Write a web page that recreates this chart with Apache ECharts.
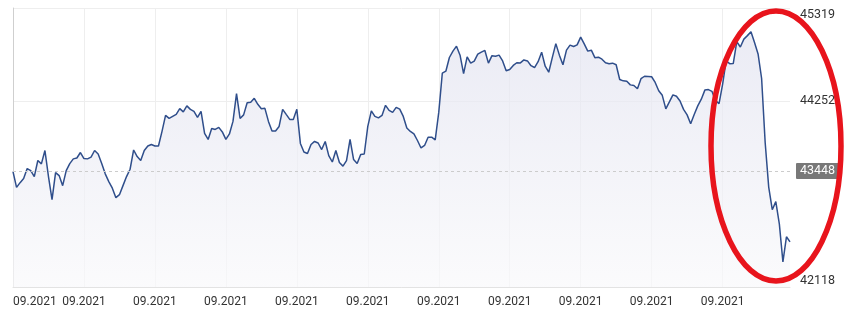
<!DOCTYPE html>
<html>
<head>
<meta charset="utf-8">
<script src="https://cdn.jsdelivr.net/npm/echarts@6/dist/echarts.min.js"></script>
<style>
html,body{margin:0;padding:0;background:#fff;}
#chart{width:848px;height:317px;}
</style>
</head>
<body>
<div id="chart"></div>
<script>
const values = [
43442,43261,43315,43362,43477,43454,43385,43569,43531,43684,
43385,43120,43431,43396,43281,43454,43534,43588,43598,43661,
43592,43588,43609,43684,43644,43534,43416,43327,43252,43143,
43177,43281,43385,43469,43690,43615,43569,43684,43736,43753,
43736,43736,43903,44087,44052,44075,44098,44164,44127,44196,
44156,44133,44064,44133,43880,43811,43937,43926,43949,43897,
43811,43874,44018,44337,44052,44093,44231,44237,44283,44214,
44164,44168,44018,43908,43908,43960,44156,44098,44041,44041,
44156,43765,43667,43649,43753,43788,43770,43695,43788,43626,
43552,43684,43546,43505,43569,43811,43580,43534,43638,43644,
43960,44139,44075,44058,44087,44202,44145,44121,44179,44159,
44075,43943,43903,43874,43799,43713,43742,43837,43837,43807,
44121,44571,44594,44751,44824,44881,44778,44567,44758,44686,
44709,44789,44812,44832,44686,44772,44766,44778,44712,44599,
44614,44660,44691,44689,44723,44712,44657,44636,44703,44812,
44651,44582,44749,44910,44778,44668,44835,44893,44877,44896,
44985,44907,44824,44835,44749,44755,44732,44691,44680,44686,
44668,44499,44483,44478,44437,44430,44392,44508,44536,44533,
44530,44465,44369,44317,44162,44241,44322,44306,44252,44156,
44093,43991,44098,44196,44273,44377,44383,44363,44256,44222,
44444,44712,44680,44682,44932,44872,44962,45002,45046,44924,
44792,44510,43776,43264,43005,43097,42840,42406,42694,42636
];
const tickLabel = '09.2021';
const categories = values.map(() => tickLabel);
const yMin = 42118;
const yMax = 45319;
const yStep = 2134;
const refValue = 43448;

const chart = echarts.init(document.getElementById('chart'), null, {renderer: 'canvas'});
const font = 'Roboto, "Noto Sans", sans-serif';
chart.setOption({
  animation: false,
  backgroundColor: '#ffffff',
  grid: {left: 13, right: 58, top: 8, bottom: 30, containLabel: false, outerBoundsMode: 'none'},
  xAxis: {
    type: 'category',
    data: categories,
    boundaryGap: false,
    axisLine: {show: true, lineStyle: {color: '#e3e3e3', width: 1}},
    axisTick: {show: false},
    axisLabel: {
      interval: 19, color: '#333', fontSize: 12, fontFamily: font, margin: 9,
      alignMinLabel: 'left'
    },
    splitLine: {show: true, interval: 19, lineStyle: {color: '#eeeeee', width: 1}}
  },
  yAxis: [{
    type: 'value',
    position: 'right',
    min: yMin, max: yMax, interval: yStep,
    axisLine: {show: false},
    axisTick: {show: false},
    axisLabel: {
      color: '#333', fontSize: 12.5, fontFamily: font, margin: 10,
      formatter: (v) => String(Math.round(v)),
      verticalAlignMinLabel: 'bottom', verticalAlignMaxLabel: 'top'
    },
    splitLine: {show: true, lineStyle: {color: '#eeeeee', width: 1}}
  }, {
    type: 'value',
    position: 'left',
    min: yMin, max: yMax,
    axisLine: {show: true, lineStyle: {color: '#cfcfcf', width: 1}},
    axisTick: {show: false},
    axisLabel: {show: false},
    splitLine: {show: false}
  }],
  series: [{
    type: 'line',
    data: values,
    yAxisIndex: 0,
    symbol: 'none',
    lineStyle: {color: '#2f4e8b', width: 1.5},
    areaStyle: {
      color: new echarts.graphic.LinearGradient(0, 0, 0, 1, [
        {offset: 0, color: '#e2e3f0'},
        {offset: 1, color: '#f9f9fb'}
      ])
    },
    markLine: {
      silent: true,
      symbol: 'none',
      lineStyle: {color: '#cccccc', type: [3, 3], width: 1},
      label: {
        position: 'end', distance: 6,
        formatter: String(refValue),
        color: '#ffffff', backgroundColor: '#787878',
        fontSize: 12.5, fontFamily: font,
        padding: [2, 4, 1, 4], borderRadius: 1
      },
      data: [{yAxis: refValue}]
    }
  }],
  graphic: [{
    type: 'ellipse',
    z: 100,
    shape: {cx: 776, cy: 146, rx: 65, ry: 135},
    style: {fill: 'none', stroke: '#e8141c', lineWidth: 5.5}
  }]
});
</script>
</body>
</html>
